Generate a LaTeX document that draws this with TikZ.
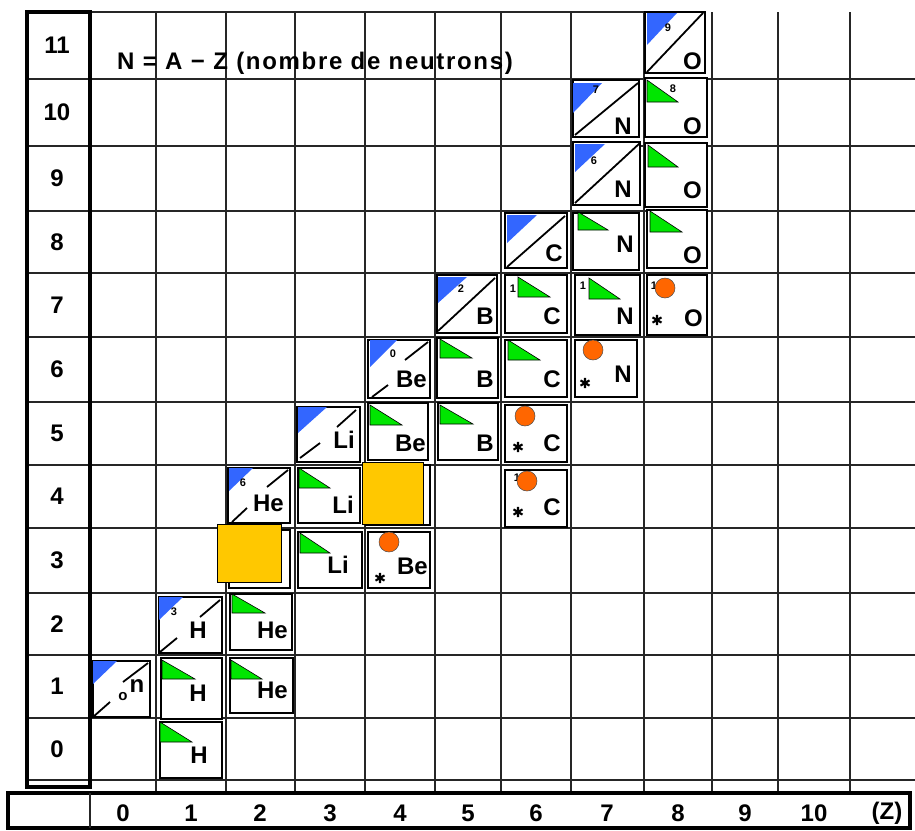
\documentclass[tikz,border=0pt]{standalone}
\usepackage{fontspec}
\setmainfont{Liberation Sans}
\definecolor{bluec}{RGB}{51,102,255}
\definecolor{greenc}{RGB}{0,230,0}
\definecolor{orangec}{RGB}{255,102,0}
\definecolor{yellowc}{RGB}{255,200,0}
\newcommand\labfont{\fontsize{24}{24}\selectfont\bfseries}
\newcommand\elfont{\fontsize{24}{24}\selectfont\bfseries}
\newcommand\digfont{\fontsize{11}{11}\selectfont\bfseries}
\newcommand\ttlfont{\fontsize{24}{24}\selectfont\bfseries\addfontfeatures{LetterSpace=7}}
\tikzset{
  gridline/.style={line width=1.2pt, black!85},
  heavy/.style={line width=3.2pt},
  boxline/.style={line width=2.4pt, fill=white},
  diagline/.style={line width=1.8pt},
  gtris/.style={fill=greenc, draw=black, line width=0.6pt},
  btris/.style={fill=bluec},
  ocirs/.style={fill=orangec, draw=black!70, line width=0.5pt},
  ysq/.style={fill=yellowc, draw=black, line width=0.8pt},
  lab/.style={font=\labfont, inner sep=0pt},
  elem/.style={font=\elfont, inner sep=0pt, anchor=base east},
  dig/.style={font=\digfont, inner sep=0pt},
}
\newcommand\nbox[4]{\draw[boxline] (#1,#2) rectangle (#3,#4);}
\newcommand\btri[4]{\fill[btris] (#1,#2) -- ++(#3,0) -- ++(-#3,#4) -- cycle;}
\newcommand\gtri[4]{\filldraw[gtris] (#1,#2) -- ++(0,#4) -- ++(#3,0) -- cycle;}
\newcommand\ocir[2]{\filldraw[ocirs] (#1,#2) circle (10pt);}
\newcommand\astk[2]{\draw[line width=2.1pt] (#1,#2) ++(0,-5.2) -- ++(0,10.4)
   (#1,#2) ++(4.5,-2.6) -- ++(-9,5.2) (#1,#2) ++(-4.5,-2.6) -- ++(9,5.2);}
\begin{document}
\begin{tikzpicture}[x=1pt,y=-1pt]
\useasboundingbox (0,0) rectangle (915,830);
% grid
\foreach \x in {156,226,295,365,435,501,571,644,712,778,850}
  \draw[gridline] (\x,12) -- (\x,793);
\foreach \y in {79,146,211,273,337,402,465,528,593,655,718,780}
  \draw[gridline] (27,\y) -- (915,\y);
\draw[gridline] (90,12) -- (645,12);
% N column
\draw[heavy] (27,12) rectangle (90,787);
% Z row
\draw[heavy] (8,793) rectangle (910,828);
\draw[gridline] (90,793) -- (90,828);
% labels
\foreach \n/\y in {0/749,1/686.5,2/624,3/560.5,4/496.5,5/433.5,6/369.5,7/305,8/242,9/178.5,10/112.5,11/45.5}
  \node[lab] (n\n) at (57,\y) {\n};
\foreach \z/\x in {0/123,1/191,2/260,3/330,4/400,5/468,6/536,7/607,8/678,9/745,10/814}
  \node[lab] (z\z) at (\x,813) {\z};
\node[lab] (zz) at (887,813) {(Z)};
\node[font=\ttlfont, inner sep=0pt, anchor=base west] (title) at (117,69) {N = A − Z (nombre de neutrons)};

% ---- nuclide boxes ----
% n (0,1)
\nbox{93}{661}{150}{717}
\btri{93}{661}{24}{23}
\draw[diagline] (93,717) -- (110,702) (123,682) -- (148,663);
\node[font=\fontsize{15}{15}\selectfont\bfseries, inner sep=0pt] (e01a) at (123,697) {o};
\node[font=\fontsize{24}{24}\selectfont\bfseries, inner sep=0pt] (e01b) at (137,686) {n};
% H (1,2)
\nbox{159}{597}{222}{653}
\btri{159}{597}{24}{23}
\node[dig] (d12) at (174,612) {3};
\draw[diagline] (160,652) -- (177,638) (200,617) -- (220,600);
\node[elem] (e12) at (207,638) {H};
% H (1,1)
\nbox{161}{658}{222}{719}
\gtri{162}{660}{33}{19}
\node[elem] (e11) at (207,701) {H};
% H (1,0)
\nbox{160}{722}{222}{778}
\gtri{160}{722}{32}{20}
\node[elem] (e10) at (208,763) {H};
% He (2,2)
\nbox{230}{594}{292}{650}
\gtri{232}{594}{33}{19}
\node[elem] (e22) at (288,638) {He};
% He (2,1)
\nbox{230}{658}{293}{713}
\gtri{231}{660}{31}{19}
\node[elem] (e21) at (288,698) {He};
% He (2,4)
\nbox{228}{468}{290}{523}
\btri{229}{468}{24}{23}
\node[dig] (d24) at (243,483) {6};
\draw[diagline] (232,522) -- (247,508) (267,487) -- (288,470);
\node[elem] (e24) at (284,511) {He};
% (2,3) box under yellow square
\nbox{229}{530}{290}{588}
\draw[ysq] (217,524) rectangle (281,582);
% Li (3,4)
\nbox{298}{468}{360}{523}
\gtri{299}{468}{31}{20}
\node[elem] (e34) at (354,513) {Li};
% (4,4) box under yellow square
\nbox{366}{465}{430}{525}
\draw[ysq] (362,462) rectangle (423,524);
% Li (3,3)
\nbox{298}{532}{362}{588}
\gtri{300}{533}{30}{20}
\node[elem] (e33) at (349,573) {Li};
% Be (4,3)
\nbox{368}{532}{430}{588}
\ocir{389}{542}
\astk{380}{578}
\node[elem] (e43) at (428,574) {Be};
% Li (3,5)
\nbox{297}{407}{360}{462}
\btri{298}{407}{29}{26}
\draw[diagline] (300,458) -- (320,443) (337,427) -- (356,410);
\node[elem] (e35) at (355,448) {Li};
% Be (4,5)
\nbox{368}{403}{428}{460}
\gtri{370}{405}{32}{20}
\node[elem] (e45) at (426,451) {Be};
% B (5,5)
\nbox{438}{403}{498}{460}
\gtri{440}{405}{33}{19}
\node[elem] (e55) at (494,451) {B};
% C (6,5)
\nbox{505}{405}{567}{462}
\ocir{525}{416}
\astk{518}{447}
\node[elem] (e65) at (561,451) {C};
% C (6,4)
\nbox{505}{470}{567}{527}
\node[dig] (d64) at (517,478) {1};
\ocir{527}{481}
\astk{518}{512}
\node[elem] (e64) at (561,515) {C};
% Be (4,6)
\nbox{368}{340}{430}{398}
\btri{370}{340}{27}{27}
\node[dig] (d46) at (393,354) {0};
\draw[diagline] (372,397) -- (388,385) (405,360) -- (428,342);
\node[elem] (e46) at (427,387) {Be};
% B (5,6)
\nbox{437}{338}{498}{398}
\gtri{440}{339}{32}{19}
\node[elem] (e56) at (494,387) {B};
% C (6,6)
\nbox{505}{340}{567}{397}
\gtri{508}{340}{32}{20}
\node[elem] (e66) at (561,387) {C};
% N (7,6)
\nbox{575}{340}{637}{397}
\ocir{593}{350}
\astk{585}{383}
\node[elem] (e76) at (632,382) {N};
% B (5,7)
\nbox{437}{275}{497}{333}
\btri{438}{277}{29}{26}
\node[dig] (d57) at (461,289) {2};
\draw[diagline] (438,331) -- (495,278);
\node[elem] (e57) at (494,324) {B};
% C (6,7)
\nbox{505}{275}{567}{333}
\gtri{518}{277}{32}{20}
\node[dig] (d67) at (513,289) {1};
\node[elem] (e67) at (561,324) {C};
% N (7,7)
\nbox{575}{275}{640}{335}
\gtri{589}{278}{31}{21}
\node[dig] (d77) at (583,286) {1};
\node[elem] (e77) at (634,324) {N};
% O (8,7)
\nbox{647}{275}{707}{335}
\node[dig] (d87) at (654,286) {1};
\ocir{665}{288}
\astk{657}{320}
\node[elem] (e87) at (703,326) {O};
% C (6,8)
\nbox{505}{213}{567}{268}
\btri{507}{215}{30}{28}
\draw[diagline] (507,267) -- (565,216);
\node[elem] (e68) at (563,261) {C};
% N (7,8)
\nbox{573}{213}{639}{270}
\gtri{578}{212}{30}{18}
\node[elem] (e78) at (634,252) {N};
% O (8,8)
\nbox{647}{210}{707}{268}
\gtri{650}{211}{32}{21}
\node[elem] (e88) at (702,263) {O};
% N (7,9)
\nbox{573}{142}{640}{205}
\btri{575}{144}{30}{28}
\node[dig] (d79) at (594,161) {6};
\draw[diagline] (575,203) -- (640,143);
\node[elem] (e79) at (632,197) {N};
% O (8,9)
\nbox{645}{143}{707}{207}
\gtri{648}{145}{30}{22}
\node[elem] (e89) at (702,198) {O};
% N (7,10)
\nbox{573}{80}{639}{137}
\btri{573}{83}{29}{30}
\node[dig] (d710) at (596,90) {7};
\draw[diagline] (575,135) -- (638,83);
\node[elem] (e710) at (632,134) {N};
% O (8,10)
\nbox{645}{78}{707}{137}
\gtri{647}{80}{31}{22}
\node[dig] (d810) at (673,89) {8};
\node[elem] (e810) at (702,134) {O};
% O (8,11)
\nbox{645}{12}{705}{73}
\btri{647}{13}{30}{32}
\node[dig] (d811) at (668,28) {9};
\draw[diagline] (647,72) -- (703,13);
\node[elem] (e811) at (702,69) {O};
\end{tikzpicture}
\end{document}
